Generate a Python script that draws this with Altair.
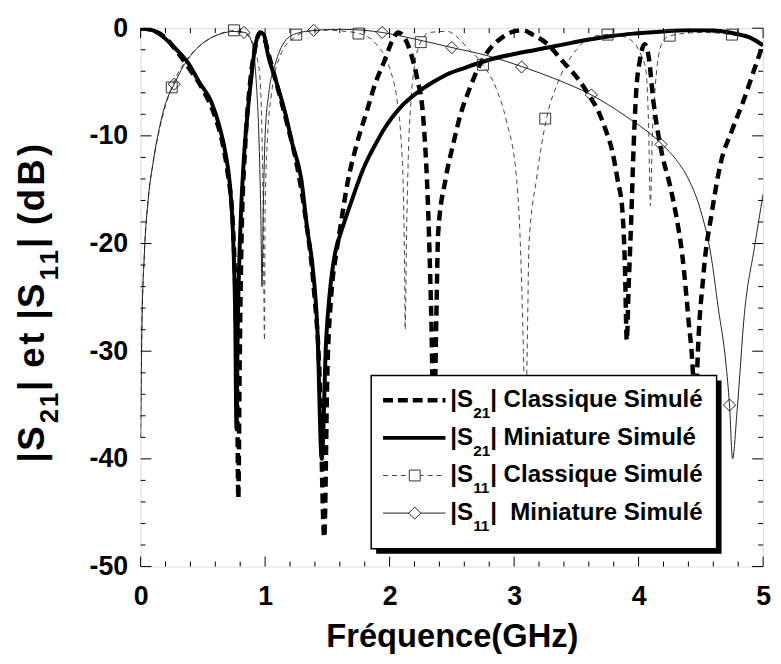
import altair as alt
import pandas as pd

# ---------------- data (f in GHz, level in dB) ----------------
s21_classique = [
    (0, 0), (0.1, -0.2), (0.2, -0.9), (0.3, -2.3), (0.4, -3.9), (0.5, -5.7), (0.6, -8.3),
    (0.66, -10.8), (0.7, -13.5), (0.74, -18), (0.76, -24), (0.775, -33), (0.785, -43.7),
    (0.795, -32), (0.81, -20), (0.84, -11), (0.88, -5), (0.92, -1.8), (0.96, -0.4), (0.99, -0.8),
    (1.03, -2.5), (1.1, -5.5), (1.18, -9), (1.26, -13), (1.33, -18), (1.39, -24), (1.44, -33),
    (1.475, -47.3), (1.5, -32), (1.53, -25), (1.57, -21), (1.6, -18.8), (1.66, -14.5),
    (1.74, -10.6), (1.82, -7.6), (1.88, -5.3), (1.96, -3.0), (2.02, -1.2), (2.07, -0.4),
    (2.12, -0.9), (2.17, -2.3), (2.22, -4.6), (2.27, -8.3), (2.31, -17), (2.335, -27),
    (2.355, -38), (2.375, -27), (2.39, -19), (2.45, -14), (2.51, -10.8), (2.57, -8), (2.64, -5.7),
    (2.72, -3.5), (2.8, -2.0), (2.9, -0.9), (3.0, -0.3), (3.07, -0.2), (3.15, -0.6), (3.26, -1.4),
    (3.4, -3.2), (3.52, -4.8), (3.6, -6.2), (3.68, -7.8), (3.74, -9.6), (3.79, -11.5), (3.83, -14),
    (3.87, -17), (3.89, -22), (3.905, -29), (3.92, -24), (3.94, -18), (3.96, -11), (3.98, -6),
    (4.01, -3), (4.05, -1.5), (4.08, -2.6), (4.12, -6.9), (4.19, -11.8), (4.25, -14.5),
    (4.3, -17.3), (4.35, -21), (4.4, -27), (4.44, -33), (4.455, -38), (4.47, -32), (4.52, -23),
    (4.59, -17), (4.66, -12.5), (4.75, -9.5), (4.85, -6.5), (4.93, -3.8), (5.0, -1.5),
]
s21_miniature = [
    (0, 0), (0.1, -0.2), (0.17, -0.7), (0.28, -1.9), (0.38, -3.2), (0.47, -5.0), (0.57, -6.9),
    (0.63, -9.0), (0.68, -11.5), (0.72, -15), (0.745, -20), (0.76, -27), (0.77, -37.2), (0.78, -28),
    (0.8, -19), (0.83, -12), (0.86, -7.8), (0.89, -4.5), (0.92, -1.7), (0.96, -0.4), (0.99, -0.6),
    (1.02, -2.3), (1.09, -5.0), (1.16, -7.8), (1.22, -10.8), (1.29, -14), (1.34, -18.8), (1.38, -22),
    (1.42, -28), (1.455, -40), (1.49, -29), (1.52, -24.5), (1.56, -21), (1.6, -19.3), (1.66, -17.2),
    (1.72, -15.2), (1.78, -13.3), (1.84, -11.8), (1.9, -10.5), (1.96, -9.3), (2.02, -8.3),
    (2.1, -7.2), (2.22, -6.0), (2.35, -5.0), (2.46, -4.3), (2.6, -3.7), (2.78, -3.0), (3.0, -2.4),
    (3.18, -2.0), (3.4, -1.5), (3.58, -1.1), (3.8, -0.7), (3.97, -0.5), (4.2, -0.3), (4.37, -0.2),
    (4.55, -0.2), (4.77, -0.5), (4.9, -0.9), (5.0, -1.6),
]
s11_classique = [
    (0, -38), (0.01, -28), (0.03, -21), (0.06, -16), (0.1, -12.5), (0.15, -9.5), (0.2, -7.2),
    (0.25, -5.5), (0.3, -4.2), (0.4, -2.5), (0.5, -1.4), (0.6, -0.7), (0.7, -0.3), (0.75, -0.2),
    (0.82, -0.4), (0.89, -1.1), (0.94, -3), (0.96, -4.8), (0.975, -10), (0.985, -17), (0.995, -29),
    (1.0, -17), (1.02, -10), (1.05, -6.2), (1.12, -2.6), (1.23, -0.9), (1.35, -0.3), (1.5, -0.2),
    (1.65, -0.3), (1.76, -0.5), (1.9, -1.6), (2.0, -3.7), (2.06, -6.7), (2.09, -10), (2.11, -15),
    (2.12, -22), (2.125, -28), (2.135, -20), (2.15, -12), (2.17, -7), (2.2, -3.5), (2.25, -1.3),
    (2.32, -0.4), (2.46, -0.3), (2.64, -2.0), (2.75, -3.4), (2.86, -5.7), (2.94, -8.7), (3.02, -14),
    (3.05, -20), (3.075, -30), (3.09, -38), (3.105, -30), (3.12, -20), (3.18, -14), (3.26, -8.4),
    (3.36, -4.8), (3.5, -2.0), (3.66, -0.7), (3.75, -0.6), (3.85, -0.7), (3.95, -1.2), (4.02, -2.5),
    (4.06, -4), (4.08, -9), (4.095, -16.5), (4.11, -10), (4.13, -6), (4.17, -2), (4.21, -1.0),
    (4.25, -0.7), (4.5, -0.4), (4.75, -0.6), (4.9, -1.0), (5.0, -1.6),
]
s11_miniature = [
    (0, -38), (0.01, -28), (0.03, -21), (0.06, -16), (0.1, -12.5), (0.15, -9.3), (0.2, -7.0),
    (0.27, -5.2), (0.35, -3.4), (0.45, -1.9), (0.55, -1.0), (0.65, -0.5), (0.75, -0.3),
    (0.84, -0.4), (0.89, -1.2), (0.93, -5.2), (0.95, -10), (0.965, -17), (0.975, -24),
    (0.985, -17), (1.0, -10), (1.03, -6), (1.08, -3.4), (1.16, -1.2), (1.25, -0.5), (1.4, -0.2),
    (1.6, -0.1), (1.8, -0.2), (1.94, -0.4), (2.2, -1.0), (2.5, -1.8), (2.8, -2.6), (3.07, -3.6),
    (3.35, -4.8), (3.62, -6.2), (3.9, -8.2), (4.19, -10.8), (4.3, -12.2), (4.4, -14), (4.5, -17),
    (4.58, -21), (4.64, -26), (4.7, -31), (4.73, -35), (4.755, -40), (4.79, -35.7), (4.85, -26.5),
    (4.93, -20.4), (5.0, -15.4),
]
square_f = [0.25, 0.75, 1.25, 1.75, 2.25, 2.75, 3.25, 3.75, 4.25, 4.75]
square_db = [-5.5, -0.2, -0.6, -0.5, -1.3, -3.4, -8.4, -0.6, -0.7, -0.6]
diamond_f = [0.27, 0.83, 1.39, 1.94, 2.50, 3.06, 3.62, 4.18, 4.73]
diamond_db = [-5.2, -0.4, -0.2, -0.4, -1.8, -3.6, -6.2, -10.8, -35]

x_major = [0, 1, 2, 3, 4, 5]
x_minor = [0.2, 0.4, 0.6, 0.8, 1.2, 1.4, 1.6, 1.8, 2.2, 2.4, 2.6, 2.8,
           3.2, 3.4, 3.6, 3.8, 4.2, 4.4, 4.6, 4.8]
y_major = [0, -10, -20, -30, -40, -50]
y_minor = [-2, -4, -6, -8, -12, -14, -16, -18, -22, -24, -26, -28,
           -32, -34, -36, -38, -42, -44, -46, -48]

legend_rows = [
    ("21", "| Classique Simulé"),
    ("21", "| Miniature Simulé"),
    ("11", "| Classique Simulé"),
    ("11", "|\u00a0 Miniature Simulé"),
]
# y-axis title "|S21| et |S11| (dB)", character by character (True = subscript)
y_title_chars = [("|", False), ("S", False), ("2", True), ("1", True), ("|", False),
                 (" ", False), ("e", False), ("t", False), (" ", False), ("|", False),
                 ("S", False), ("1", True), ("1", True), ("|", False), (" ", False),
                 ("(", False), ("d", False), ("B", False), (")", False)]
x_title = "Fréquence(GHz)"

# ---------------- chart ----------------
W, H = 629, 544
FONT = "Liberation Sans"
ADV = {"|": 0.280, "S": 0.667, "2": 0.556, "1": 0.556, " ": 0.278, "e": 0.556,
       "t": 0.333, "(": 0.333, "d": 0.611, "B": 0.722, ")": 0.333}

def frame(pairs):
    return pd.DataFrame({"f": [p[0] for p in pairs], "db": [p[1] for p in pairs]})

xs = alt.Scale(domain=[0, 5], nice=False, zero=False)
ys = alt.Scale(domain=[-50, 0], nice=False, zero=False)
X = alt.X("f:Q", scale=xs, axis=alt.Axis(
    values=x_major, title=x_title, grid=False, ticks=False, tickSize=0, domain=False,
    labelFont=FONT, labelFontSize=27, labelFontWeight="bold", labelColor="black",
    labelBaseline="alphabetic", labelPadding=38, labelFlush=False, labelAlign="center",
    titleFont=FONT, titleFontSize=33, titleFontWeight="bold", titleColor="black",
    titleBaseline="alphabetic", titleY=81, titleX=W / 2))
Y = alt.Y("db:Q", scale=ys, axis=alt.Axis(
    values=y_major, title=None, grid=False, ticks=False, tickSize=0, domain=False,
    labelFont=FONT, labelFontSize=27, labelFontWeight="bold", labelColor="black",
    labelPadding=13, labelFlush=False, labelBaseline="middle",
    labelExpr="'' + datum.value"))

def curve(pairs, width, dash, color):
    kw = dict(strokeWidth=width, color=color, interpolate="monotone", clip=True)
    if dash:
        kw["strokeDash"] = dash
    return alt.Chart(frame(pairs)).mark_line(**kw).encode(x=X, y=Y)

layers = [
    curve(s11_classique, 1, [5, 4], "#444"),
    curve(s11_miniature, 1, None, "#222"),
    curve(s21_miniature, 4, None, "black"),
    curve(s21_classique, 4.5, [10, 6], "black"),
    alt.Chart(pd.DataFrame({"f": square_f, "db": square_db})).mark_point(
        shape="square", size=121, filled=False, color="#333", strokeWidth=1, opacity=1).encode(x=X, y=Y),
    alt.Chart(pd.DataFrame({"f": diamond_f, "db": diamond_db})).mark_point(
        shape="diamond", size=150, filled=False, color="#222", strokeWidth=1, opacity=1).encode(x=X, y=Y),
]

# inward ticks on all four sides
for vals, L in ((x_major, 10), (x_minor, 5)):
    d = pd.DataFrame({"f": vals})
    layers.append(alt.Chart(d).mark_rule(color="black", strokeWidth=1).encode(
        x=X, y=alt.value(H), y2=alt.value(H - L)))
    layers.append(alt.Chart(d).mark_rule(color="black", strokeWidth=1).encode(
        x=X, y=alt.value(0), y2=alt.value(L)))
for vals, L in ((y_major, 11), (y_minor, 5)):
    d = pd.DataFrame({"db": vals})
    layers.append(alt.Chart(d).mark_rule(color="black", strokeWidth=1).encode(
        y=Y, x=alt.value(0), x2=alt.value(L)))
    layers.append(alt.Chart(d).mark_rule(color="black", strokeWidth=1).encode(
        y=Y, x=alt.value(W), x2=alt.value(W - L)))

one = pd.DataFrame({"k": [0]})

# y-axis title, rotated, with real subscripts
TF, TS, STRETCH = 37, 26, 1.13
adv = [ADV[c] * (TS if s else TF) * STRETCH for c, s in y_title_chars]
ty = H / 2 + 5 + sum(adv) / 2
for (c, is_sub), a in zip(y_title_chars, adv):
    if c != " ":
        layers.append(alt.Chart(one).mark_text(
            text=c, font=FONT, fontWeight="bold", fontSize=TS if is_sub else TF, color="black",
            angle=270, align="left", baseline="middle").encode(
            x=alt.value(-109 + (18 if is_sub else 0)), y=alt.value(ty)))
    ty -= a

# legend box with shadow
layers.append(alt.Chart(one).mark_rect(color="black").encode(
    x=alt.value(238), x2=alt.value(587), y=alt.value(356), y2=alt.value(531)))
layers.append(alt.Chart(one).mark_rect(fill="white", stroke="black", strokeWidth=1.5).encode(
    x=alt.value(233), x2=alt.value(582), y=alt.value(351), y2=alt.value(526)))

row_y = [376, 414, 452, 490]
styles = [
    dict(strokeWidth=4.5, strokeDash=[10, 5], color="black"),
    dict(strokeWidth=4, color="black"),
    dict(strokeWidth=1, strokeDash=[5, 4], color="#444"),
    dict(strokeWidth=1, color="#222"),
]
LF, LS = 24.3, 15.5
for i, ((sub, rest), yy, st) in enumerate(zip(legend_rows, row_y, styles)):
    layers.append(alt.Chart(one).mark_rule(**st).encode(
        x=alt.value(245), x2=alt.value(308), y=alt.value(yy)))
    if i == 2:
        layers.append(alt.Chart(one).mark_point(shape="square", size=121, filled=True, fill="white",
                                                 stroke="#333", strokeWidth=1, opacity=1).encode(
            x=alt.value(277), y=alt.value(yy)))
    if i == 3:
        layers.append(alt.Chart(one).mark_point(shape="diamond", size=150, filled=True, fill="white",
                                                 stroke="#222", strokeWidth=1, opacity=1).encode(
            x=alt.value(277), y=alt.value(yy)))
    txt = dict(font=FONT, fontWeight="bold", color="black", align="left", baseline="middle")
    layers.append(alt.Chart(one).mark_text(text="|S", fontSize=LF, **txt).encode(
        x=alt.value(313), y=alt.value(yy)))
    layers.append(alt.Chart(one).mark_text(text=sub, fontSize=LS, **txt).encode(
        x=alt.value(313 + 0.947 * LF), y=alt.value(yy + 13)))
    layers.append(alt.Chart(one).mark_text(text=rest, fontSize=LF, **txt).encode(
        x=alt.value(313 + 0.947 * LF + 1.112 * LS), y=alt.value(yy)))

chart = alt.layer(*layers).properties(
    width=W, height=H,
    autosize=alt.AutoSizeParams(type="none"),
    padding={"left": 134, "top": 17, "right": 10, "bottom": 87},
).configure_view(stroke="black", strokeWidth=1.5).configure(background="white")

chart.save("out.html", embed_options={"renderer": "svg", "actions": False})
